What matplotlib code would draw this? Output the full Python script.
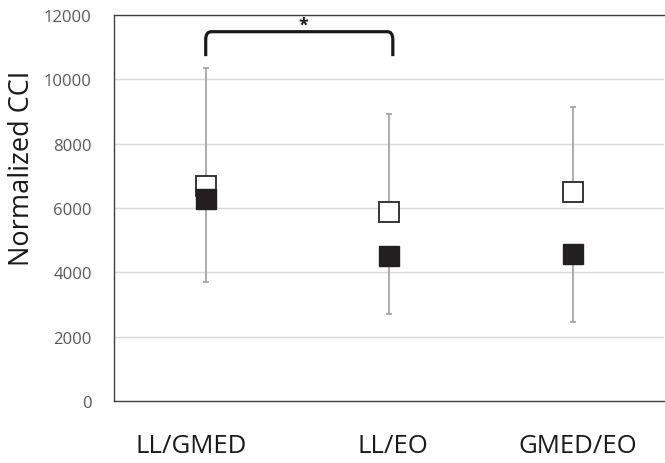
import matplotlib
matplotlib.use("Agg")
import matplotlib.pyplot as plt
from matplotlib.path import Path
from matplotlib.patches import PathPatch
from matplotlib.transforms import ScaledTranslation

plt.rcParams['font.family'] = ['Open Sans', 'DejaVu Sans']

categories = ["LL/GMED", "LL/EO", "GMED/EO"]
open_values = [6690, 5870, 6490]
filled_values = [6280, 4510, 4560]
upper_whisker = [10360, 8935, 9145]
lower_whisker = [3700, 2715, 2465]
yticks = [0, 2000, 4000, 6000, 8000, 10000, 12000]
bracket_top = 11480
bracket_bottom = 10720
star_y = 11700

fig = plt.figure(figsize=(6.65, 4.64), dpi=100)
ax = fig.add_axes([0.1714, 0.1336, 0.8276, 0.8320])

x = list(range(len(categories)))
ax.set_xlim(-0.5, len(categories) - 0.5)
ax.set_ylim(0, 12000)

ax.set_yticks(yticks)
ax.yaxis.grid(True, color='#d9d9d9', linewidth=1.0)
ax.set_axisbelow(True)

# error bars: up from open, down from filled
for xi, o, f, up, lo in zip(x, open_values, filled_values, upper_whisker, lower_whisker):
    ax.errorbar([xi], [o], yerr=[[0], [up - o]], fmt='none', ecolor='#a6a6a6',
                elinewidth=1.3, capsize=2.5, capthick=1.3, zorder=2)
    ax.errorbar([xi], [f], yerr=[[f - lo], [0]], fmt='none', ecolor='#a6a6a6',
                elinewidth=1.3, capsize=2.5, capthick=1.3, zorder=2)

ax.plot(x, open_values, linestyle='none', marker='s', markersize=14.5,
        markerfacecolor='white', markeredgecolor='#262626', markeredgewidth=1.3, zorder=3)
ax.plot(x, filled_values, linestyle='none', marker='s', markersize=14.5,
        markerfacecolor='#231f20', markeredgecolor='#231f20', markeredgewidth=1.0, zorder=4)

# significance bracket with rounded corners
x0, x1 = x[0], x[1] + 0.02
r_x, r_y = 0.03, 250
verts = [(x0, bracket_bottom), (x0, bracket_top - r_y), (x0, bracket_top), (x0 + r_x, bracket_top),
         (x1 - r_x, bracket_top), (x1, bracket_top), (x1, bracket_top - r_y), (x1, bracket_bottom)]
codes = [Path.MOVETO, Path.LINETO, Path.CURVE3, Path.CURVE3, Path.LINETO, Path.CURVE3, Path.CURVE3, Path.LINETO]
ax.add_patch(PathPatch(Path(verts, codes), facecolor='none', edgecolor='#1a1a1a', linewidth=2.3,
                       clip_on=False, zorder=5))
ax.text((x0 + x1) / 2 + 0.02, star_y, '*', ha='center', va='center', fontsize=13,
        fontweight='bold', color='#1a1a1a')

ax.set_xticks(x)
ax.set_xticklabels(categories, fontsize=18.5, color='#1a1a1a')
ax.tick_params(axis='x', length=0, pad=23)
ax.tick_params(axis='y', length=0, pad=16, labelsize=12, labelcolor='#595959')
ax.set_ylabel('Normalized CCI', fontsize=19.5, color='#1a1a1a')
ax.yaxis.set_label_coords(-0.142, 0.606)

for s in ['left', 'bottom', 'top']:
    ax.spines[s].set_color('#404040')
    ax.spines[s].set_linewidth(1.0)
ax.spines['right'].set_visible(False)

# small horizontal shifts of the category labels (pixels), as in the reference
label_shift_px = [-15, 4, 5]
fig.canvas.draw()
for tick, dx in zip(ax.xaxis.get_major_ticks(), label_shift_px):
    lab = tick.label1
    lab.set_transform(lab.get_transform() + ScaledTranslation(dx / 100, 0, fig.dpi_scale_trans))

fig.savefig('out.png', dpi=100)
